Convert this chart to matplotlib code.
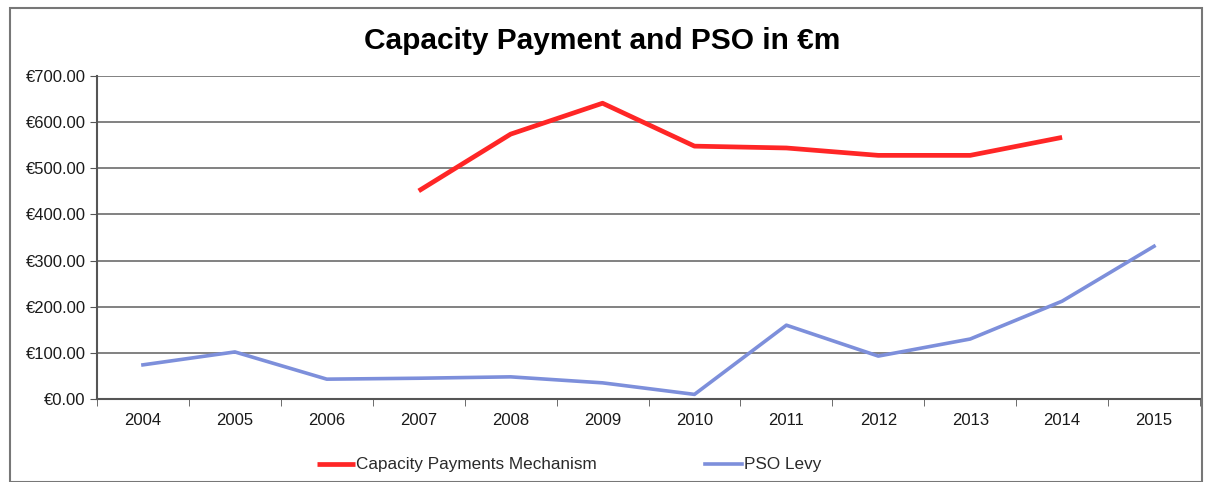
import matplotlib
matplotlib.use("Agg")
import matplotlib.pyplot as plt
import numpy as np
from matplotlib.patches import Rectangle
from matplotlib.ticker import FuncFormatter

years = ["2004", "2005", "2006", "2007", "2008", "2009", "2010", "2011", "2012", "2013", "2014", "2015"]
capacity = [np.nan, np.nan, np.nan, 451, 574, 641, 548, 544, 528, 528, 567, np.nan]
pso = [74, 102, 43, 45, 48, 35, 10, 160, 93, 130, 212, 331]
yticks = [0, 100, 200, 300, 400, 500, 600, 700]

plt.rcParams['font.family'] = ['Liberation Sans', 'DejaVu Sans']

fig = plt.figure(figsize=(12.05, 4.82), dpi=100)
fig.patches.append(Rectangle((10/1205, 0.0), 1192/1205, 1 - 8/482, transform=fig.transFigure,
                             fill=False, edgecolor='#777777', linewidth=1.5))
ax = fig.add_axes([97/1205, 1 - 399/482, 1103/1205, (399 - 76)/482])

x = np.arange(len(years))
ax.plot(x, capacity, color='#ff2626', linewidth=3.4, label='Capacity Payments Mechanism', solid_capstyle='butt')
ax.plot(x, pso, color='#7d8fdb', linewidth=2.6, label='PSO Levy')

ax.set_xlim(-0.5, len(years) - 0.5)
ax.set_ylim(0, 700)
ax.set_yticks(yticks)
ax.yaxis.set_major_formatter(FuncFormatter(lambda v, p: "€{:.2f}".format(v)))
ax.set_xticks(x)
ax.set_xticklabels(years)
ax.set_xticks(np.arange(-0.5, len(years), 1.0), minor=True)
ax.tick_params(axis='x', which='major', length=0, pad=10, labelsize=12, labelcolor='#1a1a1a')
ax.tick_params(axis='x', which='minor', length=5, direction='out', color='#555555')
ax.tick_params(axis='y', length=5, direction='out', color='#555555', labelsize=12, pad=3, labelcolor='#1a1a1a')
ax.grid(axis='y', color='#777777', linewidth=1.3)
ax.set_axisbelow(True)
for s in ['top', 'right']:
    ax.spines[s].set_visible(False)
for s in ['left', 'bottom']:
    ax.spines[s].set_color('#555555')
    ax.spines[s].set_linewidth(1.5)

fig.text(602/1205, 1 - 41/482, "Capacity Payment and PSO in €m", ha='center', va='center',
         fontsize=21.5, fontweight='bold')

leg = ax.legend(loc='center left', bbox_to_anchor=(317/1205, 1 - 465/482), bbox_transform=fig.transFigure,
                ncol=2, frameon=False, fontsize=12.3, handlelength=2.2, handletextpad=0.1,
                columnspacing=6.3, labelcolor='#2a2a2a', borderaxespad=0, borderpad=0)

fig.savefig("out.png", dpi=100)
